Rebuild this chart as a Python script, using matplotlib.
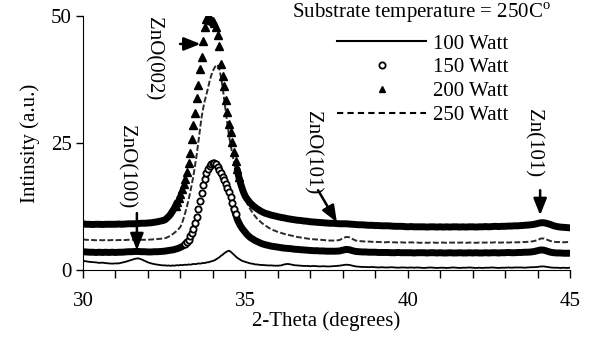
import numpy as np
import matplotlib
matplotlib.use('Agg')
import matplotlib.pyplot as plt
from matplotlib.lines import Line2D
from matplotlib.ticker import MultipleLocator

plt.rcParams['font.family'] = 'Liberation Serif'
plt.rcParams['mathtext.fontset'] = 'custom'
plt.rcParams['mathtext.rm'] = 'Liberation Serif'

# 2-theta sampling, finer across the (002) peak
two_theta = np.round(np.concatenate([np.linspace(30.0, 32.5, 26),
                                     np.linspace(32.55, 35.45, 59),
                                     np.linspace(35.5, 45.0, 96)]), 2)

w100 = [1.8, 1.7, 1.6, 1.55, 1.5, 1.4, 1.45, 1.35, 1.3, 1.25,
        1.3, 1.3, 1.45, 1.6, 1.8, 2.0, 2.2, 2.3, 2.1, 1.8,
        1.5, 1.3, 1.15, 1.05, 0.95, 0.9,
        0.9, 0.85, 0.9, 0.8, 0.9, 0.85, 0.9, 0.95, 0.9, 1.0,
        0.95, 1.0, 1.05, 1.0, 1.1, 1.05, 1.1, 1.2, 1.15, 1.2,
        1.3, 1.25, 1.3, 1.4, 1.35, 1.5, 1.5, 1.6, 1.7, 1.8,
        1.9, 2.1, 2.3, 2.5, 2.8, 3.0, 3.3, 3.5, 3.7, 3.8,
        3.6, 3.3, 3.0, 2.7, 2.4, 2.2, 2.0, 1.8, 1.7, 1.6,
        1.5, 1.4, 1.3, 1.25, 1.2, 1.1, 1.1, 1.05, 1.0,
        1.0, 0.95, 0.9, 0.9, 0.85, 0.85, 0.9, 1.1, 1.2, 1.1,
        0.95, 0.9, 0.85, 0.8, 0.8, 0.75, 0.8, 0.75, 0.7, 0.75,
        0.7, 0.7, 0.75, 0.8, 0.85, 0.95, 1.05, 1.0, 0.85, 0.7,
        0.65, 0.6, 0.6, 0.55, 0.6, 0.55, 0.5, 0.55, 0.5, 0.5,
        0.55, 0.5, 0.45, 0.5, 0.5, 0.45, 0.5, 0.45, 0.5, 0.45,
        0.4, 0.45, 0.5, 0.45, 0.4, 0.45, 0.45, 0.4, 0.45, 0.5,
        0.45, 0.4, 0.45, 0.45, 0.5, 0.45, 0.4, 0.45, 0.4, 0.45,
        0.45, 0.5, 0.45, 0.4, 0.45, 0.45, 0.5, 0.45, 0.5, 0.5,
        0.5, 0.45, 0.5, 0.55, 0.55, 0.6, 0.7, 0.7, 0.6, 0.5,
        0.45, 0.45, 0.4, 0.45, 0.4, 0.45]

w150 = [3.6, 3.55, 3.5, 3.5, 3.45, 3.5, 3.45, 3.5, 3.45, 3.5,
        3.45, 3.5, 3.5, 3.55, 3.6, 3.6, 3.65, 3.65, 3.6, 3.6,
        3.55, 3.55, 3.6, 3.6, 3.65, 3.7,
        3.75, 3.8, 3.85, 3.9, 3.95, 4.0, 4.1, 4.2, 4.3, 4.45,
        4.6, 4.8, 5.1, 5.5, 6.0, 6.6, 7.3, 8.1, 9.2, 10.5,
        12.0, 13.6, 15.2, 16.7, 17.9, 19.0, 19.8, 20.4, 20.8, 21.0,
        21.0, 20.8, 20.3, 19.7, 19.0, 18.4, 17.8, 17.0, 16.2, 15.3,
        14.3, 13.2, 12.1, 11.0, 10.0, 9.3, 8.7, 8.2, 7.8, 7.4,
        7.0, 6.7, 6.4, 6.2, 6.0, 5.8, 5.65, 5.5, 5.35,
        5.2, 5.0, 4.85, 4.7, 4.6, 4.5, 4.4, 4.3, 4.25, 4.2,
        4.1, 4.05, 4.0, 3.95, 3.9, 3.85, 3.8, 3.8, 3.75, 3.75,
        3.7, 3.7, 3.7, 3.7, 3.75, 3.9, 4.05, 4.0, 3.8, 3.65,
        3.6, 3.55, 3.55, 3.5, 3.5, 3.5, 3.45, 3.45, 3.45, 3.45,
        3.4, 3.4, 3.45, 3.4, 3.4, 3.4, 3.4, 3.35, 3.4, 3.4,
        3.4, 3.35, 3.4, 3.4, 3.35, 3.4, 3.35, 3.35, 3.4, 3.35,
        3.35, 3.4, 3.35, 3.35, 3.4, 3.35, 3.4, 3.35, 3.35, 3.4,
        3.35, 3.4, 3.4, 3.35, 3.4, 3.4, 3.45, 3.4, 3.4, 3.45,
        3.45, 3.5, 3.5, 3.55, 3.65, 3.8, 3.95, 3.9, 3.7, 3.5,
        3.4, 3.35, 3.35, 3.3, 3.3, 3.3]

w200 = [9.1, 9.0, 9.0, 8.95, 9.0, 9.0, 8.95, 9.0, 9.0, 9.0,
        9.0, 9.05, 9.0, 9.05, 9.1, 9.1, 9.1, 9.15, 9.2, 9.2,
        9.25, 9.3, 9.4, 9.5, 9.65, 9.8,
        10.0, 10.3, 10.6, 11.0, 11.5, 12.0, 12.6, 13.3, 14.1, 15.0,
        16.0, 17.0, 18.0, 19.2, 21.0, 23.0, 25.8, 28.5, 31.0, 33.8,
        36.5, 39.5, 42.0, 45.0, 47.8, 49.5, 49.6, 49.4, 49.2, 49.0,
        48.7, 47.8, 46.3, 44.0, 40.5, 38.2, 36.3, 33.5, 31.2, 28.8,
        27.2, 25.2, 23.3, 21.5, 19.8, 18.3, 17.1, 16.1, 15.2, 14.5,
        14.0, 13.6, 13.2, 12.9, 12.6, 12.35, 12.1, 11.9, 11.7,
        11.5, 11.2, 11.0, 10.8, 10.65, 10.5, 10.35, 10.25, 10.1, 10.0,
        9.9, 9.8, 9.75, 9.65, 9.6, 9.5, 9.45, 9.4, 9.35, 9.3,
        9.25, 9.2, 9.2, 9.15, 9.1, 9.1, 9.1, 9.05, 9.0, 8.95,
        8.9, 8.9, 8.85, 8.8, 8.8, 8.75, 8.75, 8.7, 8.7, 8.7,
        8.65, 8.6, 8.6, 8.6, 8.55, 8.5, 8.55, 8.5, 8.5, 8.5,
        8.5, 8.45, 8.5, 8.5, 8.45, 8.5, 8.45, 8.5, 8.45, 8.5,
        8.5, 8.45, 8.5, 8.45, 8.5, 8.5, 8.45, 8.5, 8.5, 8.55,
        8.5, 8.55, 8.6, 8.55, 8.6, 8.6, 8.65, 8.65, 8.7, 8.7,
        8.75, 8.8, 8.85, 8.9, 9.0, 9.15, 9.3, 9.3, 9.15, 8.95,
        8.7, 8.55, 8.45, 8.4, 8.35, 8.3]

w250 = [6.0, 5.95, 5.9, 5.9, 5.85, 5.9, 5.85, 5.9, 5.85, 5.9,
        5.85, 5.9, 5.9, 5.9, 5.95, 5.95, 6.0, 6.0, 5.95, 5.95,
        5.95, 6.0, 6.05, 6.1, 6.15, 6.25,
        6.3, 6.45, 6.6, 6.8, 7.0, 7.25, 7.5, 7.8, 8.1, 8.5,
        9.2, 10.2, 11.3, 12.5, 13.8, 15.2, 16.8, 18.5, 20.5, 22.6,
        25.0, 27.5, 30.0, 31.8, 33.3, 34.5, 35.8, 37.2, 38.3, 39.2,
        39.8, 40.3, 40.4, 39.5, 38.0, 36.0, 33.5, 31.0, 28.6, 26.3,
        24.5, 22.8, 21.2, 19.8, 18.5, 17.3, 16.3, 15.4, 14.6, 13.9,
        13.2, 12.6, 12.0, 11.5, 11.0, 10.6, 10.2, 9.9, 9.6,
        9.3, 8.8, 8.4, 8.0, 7.75, 7.5, 7.3, 7.1, 6.95, 6.8,
        6.65, 6.5, 6.4, 6.3, 6.2, 6.1, 6.05, 6.0, 5.95, 5.9,
        5.85, 5.8, 5.8, 5.8, 5.9, 6.2, 6.5, 6.45, 6.1, 5.8,
        5.7, 5.65, 5.6, 5.6, 5.55, 5.55, 5.5, 5.5, 5.45, 5.5,
        5.45, 5.45, 5.4, 5.45, 5.4, 5.4, 5.45, 5.4, 5.4, 5.35,
        5.4, 5.35, 5.4, 5.4, 5.35, 5.4, 5.4, 5.35, 5.4, 5.4,
        5.35, 5.4, 5.4, 5.35, 5.4, 5.4, 5.35, 5.4, 5.4, 5.4,
        5.4, 5.4, 5.45, 5.4, 5.4, 5.45, 5.4, 5.45, 5.45, 5.45,
        5.5, 5.5, 5.55, 5.6, 5.7, 5.9, 6.2, 6.2, 5.95, 5.7,
        5.55, 5.5, 5.5, 5.45, 5.5, 5.5]

x = two_theta
w150 = np.array(w150)
w200 = np.array(w200)

fig = plt.figure(figsize=(5.95, 3.4), dpi=100)
ax = fig.add_axes([83/595, 70/340, 487/595, 254/340])

ax.plot(x, w100, color='black', lw=1.3)

# dense scan points merge into a solid band away from the peak
band = 'black'
lo, hi = x <= 33.2, x >= 34.65
ax.plot(x[lo], w150[lo], color=band, lw=5, solid_capstyle='round')
ax.plot(x[hi], w150[hi], color=band, lw=5, solid_capstyle='round')
pk = (x >= 33.15) & (x <= 34.7)
ax.plot(x[pk], w150[pk], 'o', ms=4.5, mfc='white', mec='black', mew=1.3)

ax.plot(x, w250, color='#2a2a2a', lw=1.4, ls=(0, (3, 1.2)))

lo, hi = x <= 32.9, x >= 34.75
ax.plot(x[lo], w200[lo], color=band, lw=5, solid_capstyle='round')
ax.plot(x[hi], w200[hi], color=band, lw=5, solid_capstyle='round')
pk = (x >= 32.85) & (x <= 34.8)
ax.plot(x[pk], w200[pk], '^', ms=5.5, color='black')

ax.set_xlim(30, 45)
ax.set_ylim(0, 50)
ax.set_xticks([30, 35, 40, 45])
ax.xaxis.set_minor_locator(MultipleLocator(1))
ax.set_yticks([0, 25, 50])
ax.tick_params(axis='x', which='both', direction='out', length=6, width=1, pad=10, labelsize=15)
ax.tick_params(axis='y', direction='out', length=5, width=1, pad=3, labelsize=15)
for s in ['top', 'right']:
    ax.spines[s].set_visible(False)
ax.set_xlabel('2-Theta (degrees)', fontsize=15, labelpad=0)
ax.set_ylabel('Intinsity (a.u.)', fontsize=15, labelpad=8)

# peak labels
arr = dict(arrowstyle='-|>,head_length=0.5,head_width=0.2', color='black', lw=1.8,
           mutation_scale=20, shrinkA=0, shrinkB=0)
ax.annotate('', xy=(31.66, 3.9), xytext=(31.66, 11.2), arrowprops=arr)
ax.text(31.33, 20.3, 'ZnO(100)', rotation=-90, fontsize=15, ha='center', va='center')
ax.annotate('', xy=(33.62, 44.5), xytext=(32.99, 44.5), arrowprops=arr)
ax.text(32.16, 41.7, 'ZnO(002)', rotation=-90, fontsize=15, ha='center', va='center')
ax.annotate('', xy=(37.82, 9.4), xytext=(37.24, 15.7), arrowprops=arr)
ax.text(37.05, 23.2, 'ZnO(101)', rotation=-90, fontsize=15, ha='center', va='center')
ax.annotate('', xy=(44.08, 10.8), xytext=(44.08, 15.7), arrowprops=arr)
ax.text(43.86, 25.0, 'Zn(101)', rotation=-90, fontsize=15, ha='center', va='center')

handles = [Line2D([], [], color='black', lw=1.5),
           Line2D([], [], ls='none', marker='o', ms=4.5, mfc='white', mec='black', mew=1.3),
           Line2D([], [], ls='none', marker='^', ms=5, color='black'),
           Line2D([], [], color='black', lw=1.5, ls=(0, (3, 2)))]
labels = ['100 Watt', '150 Watt', '200 Watt', '250 Watt']
fig.text(421/595, 1 - 13/340, 'Substrate temperature = 250C$^{\\mathrm{o}}$', fontsize=15,
         ha='center', va='center')
ax.legend(handles, labels, loc='upper right', bbox_to_anchor=(508/595, 1 - 34/340),
          bbox_transform=fig.transFigure, frameon=False, fontsize=15, handlelength=4.3,
          handletextpad=0.3, labelspacing=0.2, borderpad=0, borderaxespad=0, numpoints=1)

fig.savefig('out.png', dpi=100)
